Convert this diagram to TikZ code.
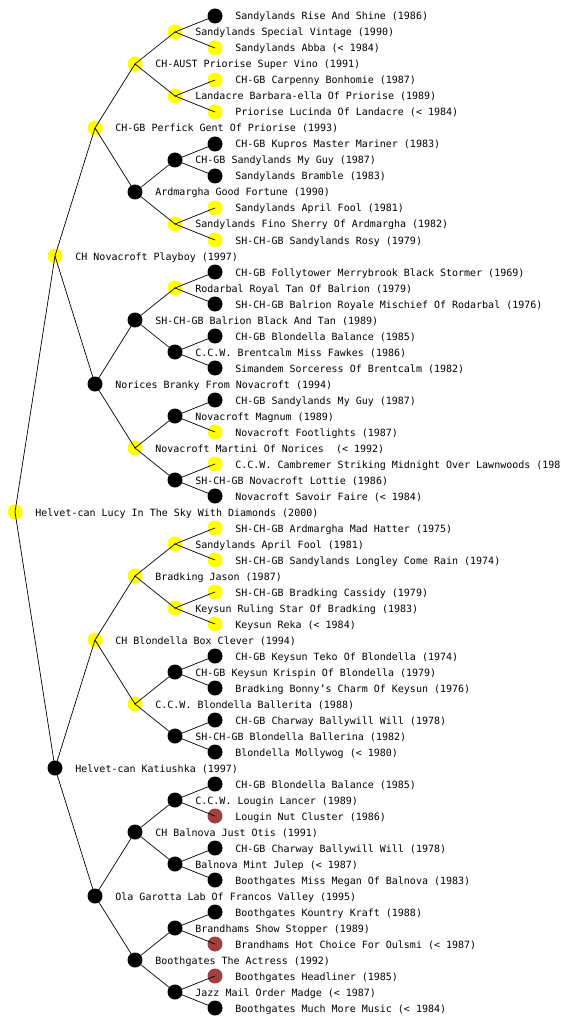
\documentclass[tikz,border=0pt]{standalone}
\usepackage{fontspec}
\setmonofont{DejaVu Sans Mono}
\usetikzlibrary{positioning}
\definecolor{hityel}{RGB}{255,255,0}
\definecolor{hitred}{RGB}{160,64,64}

\begin{document}
\begin{tikzpicture}[
 x=1pt,y=-1pt,
 dot/.style={circle,inner sep=0pt,minimum size=15pt},
 yel/.style={dot,fill=hityel},
 blk/.style={dot,fill=black},
 red/.style={dot,fill=hitred},
 txt/.style={inner sep=0pt,text height=8pt,text depth=0pt,
             font=\ttfamily\fontsize{10}{12}\selectfont,anchor=west},
 edge/.style={draw=black,line width=0.7pt},
 node distance=12.5pt
]
\useasboundingbox (0,0) rectangle (560,1024);
\fill[white] (0,0) rectangle (560,1024);
\clip (0,0) rectangle (560,1024);
% the dog
\node[yel] (dog) at (15,512) {};
\node[txt,right=of dog] (dogT) {Helvet-can Lucy In The Sky With Diamonds (2000)};
% parents
\node[yel] (s) at (55,256) {};
\node[txt,right=of s] (sT) {CH Novacroft Playboy (1997)};
\node[blk] (d) at (55,768) {};
\node[txt,right=of d] (dT) {Helvet-can Katiushka (1997)};
% grandparents
\node[yel] (ss) at (95,128) {};
\node[txt,right=of ss] (ssT) {CH-GB Perfick Gent Of Priorise (1993)};
\node[blk] (sd) at (95,384) {};
\node[txt,right=of sd] (sdT) {Norices Branky From Novacroft (1994)};
\node[yel] (ds) at (95,640) {};
\node[txt,right=of ds] (dsT) {CH Blondella Box Clever (1994)};
\node[blk] (dd) at (95,896) {};
\node[txt,right=of dd] (ddT) {Ola Garotta Lab Of Francos Valley (1995)};
% great-grandparents
\node[yel] (sss) at (135,64) {};
\node[txt,right=of sss] (sssT) {CH-AUST Priorise Super Vino (1991)};
\node[blk] (ssd) at (135,192) {};
\node[txt,right=of ssd] (ssdT) {Ardmargha Good Fortune (1990)};
\node[blk] (sds) at (135,320) {};
\node[txt,right=of sds] (sdsT) {SH-CH-GB Balrion Black And Tan (1989)};
\node[yel] (sdd) at (135,448) {};
\node[txt,right=of sdd] (sddT) {Novacroft Martini Of Norices \ (< 1992)};
\node[yel] (dss) at (135,576) {};
\node[txt,right=of dss] (dssT) {Bradking Jason (1987)};
\node[yel] (dsd) at (135,704) {};
\node[txt,right=of dsd] (dsdT) {C.C.W. Blondella Ballerita (1988)};
\node[blk] (dds) at (135,832) {};
\node[txt,right=of dds] (ddsT) {CH Balnova Just Otis (1991)};
\node[blk] (ddd) at (135,960) {};
\node[txt,right=of ddd] (dddT) {Boothgates The Actress (1992)};
% fourth generation
\node[yel] (ssss) at (175,32) {};
\node[txt,right=of ssss] (ssssT) {Sandylands Special Vintage (1990)};
\node[yel] (sssd) at (175,96) {};
\node[txt,right=of sssd] (sssdT) {Landacre Barbara-ella Of Priorise (1989)};
\node[blk] (ssds) at (175,160) {};
\node[txt,right=of ssds] (ssdsT) {CH-GB Sandylands My Guy (1987)};
\node[yel] (ssdd) at (175,224) {};
\node[txt,right=of ssdd] (ssddT) {Sandylands Fino Sherry Of Ardmargha (1982)};
\node[yel] (sdss) at (175,288) {};
\node[txt,right=of sdss] (sdssT) {Rodarbal Royal Tan Of Balrion (1979)};
\node[blk] (sdsd) at (175,352) {};
\node[txt,right=of sdsd] (sdsdT) {C.C.W. Brentcalm Miss Fawkes (1986)};
\node[blk] (sdds) at (175,416) {};
\node[txt,right=of sdds] (sddsT) {Novacroft Magnum (1989)};
\node[blk] (sddd) at (175,480) {};
\node[txt,right=of sddd] (sdddT) {SH-CH-GB Novacroft Lottie (1986)};
\node[yel] (dsss) at (175,544) {};
\node[txt,right=of dsss] (dsssT) {Sandylands April Fool (1981)};
\node[yel] (dssd) at (175,608) {};
\node[txt,right=of dssd] (dssdT) {Keysun Ruling Star Of Bradking (1983)};
\node[blk] (dsds) at (175,672) {};
\node[txt,right=of dsds] (dsdsT) {CH-GB Keysun Krispin Of Blondella (1979)};
\node[blk] (dsdd) at (175,736) {};
\node[txt,right=of dsdd] (dsddT) {SH-CH-GB Blondella Ballerina (1982)};
\node[blk] (ddss) at (175,800) {};
\node[txt,right=of ddss] (ddssT) {C.C.W. Lougin Lancer (1989)};
\node[blk] (ddsd) at (175,864) {};
\node[txt,right=of ddsd] (ddsdT) {Balnova Mint Julep (< 1987)};
\node[blk] (ddds) at (175,928) {};
\node[txt,right=of ddds] (dddsT) {Brandhams Show Stopper (1989)};
\node[blk] (dddd) at (175,992) {};
\node[txt,right=of dddd] (ddddT) {Jazz Mail Order Madge (< 1987)};
% fifth generation
\node[blk] (sssss) at (215,16) {};
\node[txt,right=of sssss] (sssssT) {Sandylands Rise And Shine (1986)};
\node[yel] (ssssd) at (215,48) {};
\node[txt,right=of ssssd] (ssssdT) {Sandylands Abba (< 1984)};
\node[yel] (sssds) at (215,80) {};
\node[txt,right=of sssds] (sssdsT) {CH-GB Carpenny Bonhomie (1987)};
\node[yel] (sssdd) at (215,112) {};
\node[txt,right=of sssdd] (sssddT) {Priorise Lucinda Of Landacre (< 1984)};
\node[blk] (ssdss) at (215,144) {};
\node[txt,right=of ssdss] (ssdssT) {CH-GB Kupros Master Mariner (1983)};
\node[blk] (ssdsd) at (215,176) {};
\node[txt,right=of ssdsd] (ssdsdT) {Sandylands Bramble (1983)};
\node[yel] (ssdds) at (215,208) {};
\node[txt,right=of ssdds] (ssddsT) {Sandylands April Fool (1981)};
\node[yel] (ssddd) at (215,240) {};
\node[txt,right=of ssddd] (ssdddT) {SH-CH-GB Sandylands Rosy (1979)};
\node[blk] (sdsss) at (215,272) {};
\node[txt,right=of sdsss] (sdsssT) {CH-GB Follytower Merrybrook Black Stormer (1969)};
\node[blk] (sdssd) at (215,304) {};
\node[txt,right=of sdssd] (sdssdT) {SH-CH-GB Balrion Royale Mischief Of Rodarbal (1976)};
\node[blk] (sdsds) at (215,336) {};
\node[txt,right=of sdsds] (sdsdsT) {CH-GB Blondella Balance (1985)};
\node[blk] (sdsdd) at (215,368) {};
\node[txt,right=of sdsdd] (sdsddT) {Simandem Sorceress Of Brentcalm (1982)};
\node[blk] (sddss) at (215,400) {};
\node[txt,right=of sddss] (sddssT) {CH-GB Sandylands My Guy (1987)};
\node[yel] (sddsd) at (215,432) {};
\node[txt,right=of sddsd] (sddsdT) {Novacroft Footlights (1987)};
\node[yel] (sddds) at (215,464) {};
\node[txt,right=of sddds] (sdddsT) {C.C.W. Cambremer Striking Midnight Over Lawnwoods (1987)};
\node[blk] (sdddd) at (215,496) {};
\node[txt,right=of sdddd] (sddddT) {Novacroft Savoir Faire (< 1984)};
\node[yel] (dssss) at (215,528) {};
\node[txt,right=of dssss] (dssssT) {SH-CH-GB Ardmargha Mad Hatter (1975)};
\node[yel] (dsssd) at (215,560) {};
\node[txt,right=of dsssd] (dsssdT) {SH-CH-GB Sandylands Longley Come Rain (1974)};
\node[yel] (dssds) at (215,592) {};
\node[txt,right=of dssds] (dssdsT) {SH-CH-GB Bradking Cassidy (1979)};
\node[yel] (dssdd) at (215,624) {};
\node[txt,right=of dssdd] (dssddT) {Keysun Reka (< 1984)};
\node[blk] (dsdss) at (215,656) {};
\node[txt,right=of dsdss] (dsdssT) {CH-GB Keysun Teko Of Blondella (1974)};
\node[blk] (dsdsd) at (215,688) {};
\node[txt,right=of dsdsd] (dsdsdT) {Bradking Bonny’s Charm Of Keysun (1976)};
\node[blk] (dsdds) at (215,720) {};
\node[txt,right=of dsdds] (dsddsT) {CH-GB Charway Ballywill Will (1978)};
\node[blk] (dsddd) at (215,752) {};
\node[txt,right=of dsddd] (dsdddT) {Blondella Mollywog (< 1980)};
\node[blk] (ddsss) at (215,784) {};
\node[txt,right=of ddsss] (ddsssT) {CH-GB Blondella Balance (1985)};
\node[red] (ddssd) at (215,816) {};
\node[txt,right=of ddssd] (ddssdT) {Lougin Nut Cluster (1986)};
\node[blk] (ddsds) at (215,848) {};
\node[txt,right=of ddsds] (ddsdsT) {CH-GB Charway Ballywill Will (1978)};
\node[blk] (ddsdd) at (215,880) {};
\node[txt,right=of ddsdd] (ddsddT) {Boothgates Miss Megan Of Balnova (1983)};
\node[blk] (dddss) at (215,912) {};
\node[txt,right=of dddss] (dddssT) {Boothgates Kountry Kraft (1988)};
\node[red] (dddsd) at (215,944) {};
\node[txt,right=of dddsd] (dddsdT) {Brandhams Hot Choice For Oulsmi (< 1987)};
\node[red] (dddds) at (215,976) {};
\node[txt,right=of dddds] (ddddsT) {Boothgates Headliner (1985)};
\node[blk] (ddddd) at (215,1008) {};
\node[txt,right=of ddddd] (dddddT) {Boothgates Much More Music (< 1984)};
% lines from each dog to its sire and dam
\draw[edge] (s.center) -- (dog.center) -- (d.center);
\draw[edge] (ss.center) -- (s.center) -- (sd.center);
\draw[edge] (ds.center) -- (d.center) -- (dd.center);
\draw[edge] (sss.center) -- (ss.center) -- (ssd.center);
\draw[edge] (sds.center) -- (sd.center) -- (sdd.center);
\draw[edge] (dss.center) -- (ds.center) -- (dsd.center);
\draw[edge] (dds.center) -- (dd.center) -- (ddd.center);
\draw[edge] (ssss.center) -- (sss.center) -- (sssd.center);
\draw[edge] (ssds.center) -- (ssd.center) -- (ssdd.center);
\draw[edge] (sdss.center) -- (sds.center) -- (sdsd.center);
\draw[edge] (sdds.center) -- (sdd.center) -- (sddd.center);
\draw[edge] (dsss.center) -- (dss.center) -- (dssd.center);
\draw[edge] (dsds.center) -- (dsd.center) -- (dsdd.center);
\draw[edge] (ddss.center) -- (dds.center) -- (ddsd.center);
\draw[edge] (ddds.center) -- (ddd.center) -- (dddd.center);
\draw[edge] (sssss.center) -- (ssss.center) -- (ssssd.center);
\draw[edge] (sssds.center) -- (sssd.center) -- (sssdd.center);
\draw[edge] (ssdss.center) -- (ssds.center) -- (ssdsd.center);
\draw[edge] (ssdds.center) -- (ssdd.center) -- (ssddd.center);
\draw[edge] (sdsss.center) -- (sdss.center) -- (sdssd.center);
\draw[edge] (sdsds.center) -- (sdsd.center) -- (sdsdd.center);
\draw[edge] (sddss.center) -- (sdds.center) -- (sddsd.center);
\draw[edge] (sddds.center) -- (sddd.center) -- (sdddd.center);
\draw[edge] (dssss.center) -- (dsss.center) -- (dsssd.center);
\draw[edge] (dssds.center) -- (dssd.center) -- (dssdd.center);
\draw[edge] (dsdss.center) -- (dsds.center) -- (dsdsd.center);
\draw[edge] (dsdds.center) -- (dsdd.center) -- (dsddd.center);
\draw[edge] (ddsss.center) -- (ddss.center) -- (ddssd.center);
\draw[edge] (ddsds.center) -- (ddsd.center) -- (ddsdd.center);
\draw[edge] (dddss.center) -- (ddds.center) -- (dddsd.center);
\draw[edge] (dddds.center) -- (dddd.center) -- (ddddd.center);
\end{tikzpicture}
\end{document}
